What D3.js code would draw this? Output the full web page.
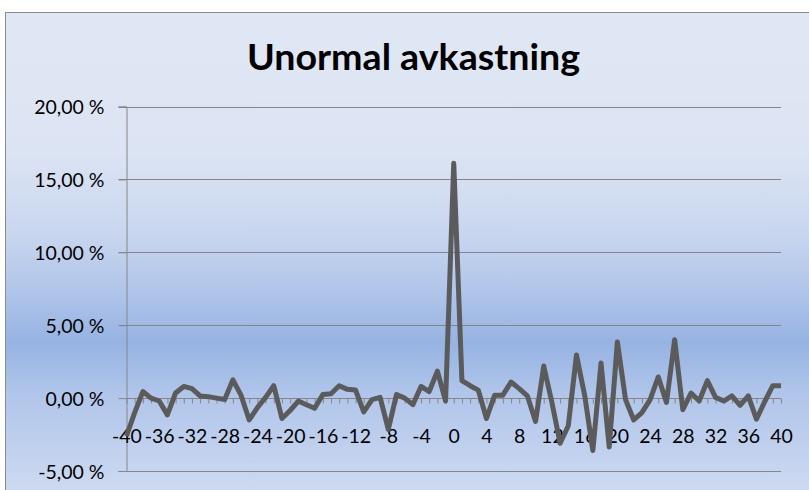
<!DOCTYPE html>
<html>
<head>
<meta charset="utf-8">
<script src="https://cdn.jsdelivr.net/npm/d3@7"></script>
<style>
  html, body { margin: 0; padding: 0; background: #ffffff; }
  svg { display: block; }
</style>
</head>
<body>
<svg id="chart" width="809" height="490"></svg>
<script>
// Event window: trading days relative to the event day
const days = [-40,-39,-38,-37,-36,-35,-34,-33,-32,-31,-30,-29,-28,-27,-26,-25,-24,-23,-22,-21,
  -20,-19,-18,-17,-16,-15,-14,-13,-12,-11,-10,-9,-8,-7,-6,-5,-4,-3,-2,-1,
  0,1,2,3,4,5,6,7,8,9,10,11,12,13,14,15,16,17,18,19,
  20,21,22,23,24,25,26,27,28,29,30,31,32,33,34,35,36,37,38,39,40];

// Abnormal return per day, in percent
const abnormalReturn = [-2.6,-1.0,0.45,0.0,-0.2,-1.15,0.35,0.8,0.65,0.15,0.1,0.0,-0.1,1.25,0.2,-1.5,-0.65,0.05,0.85,-1.4,
  -0.85,-0.2,-0.45,-0.7,0.25,0.3,0.85,0.6,0.55,-0.95,-0.1,0.05,-2.15,0.25,0.0,-0.45,0.8,0.45,1.85,-0.2,
  16.1,1.2,0.85,0.55,-1.4,0.2,0.2,1.1,0.65,0.15,-1.6,2.2,-0.3,-3.1,-1.9,2.95,0.2,-3.6,2.4,-3.35,
  3.85,-0.1,-1.5,-1.0,-0.1,1.45,-0.3,4.0,-0.8,0.35,-0.2,1.2,0.05,-0.2,0.15,-0.5,0.15,-1.45,-0.25,0.85,0.85];

// Value axis ticks and their labels
const yTicks = [-5, 0, 5, 10, 15, 20];
const yTickLabels = ["-5,00 %", "0,00 %", "5,00 %", "10,00 %", "15,00 %", "20,00 %"];

// Category labels shown on every fourth day
const xLabelDays = [-40,-36,-32,-28,-24,-20,-16,-12,-8,-4,0,4,8,12,16,20,24,28,32,36,40];

const title = "Unormal avkastning";

const svg = d3.select("#chart");
const plot = { left: 126.5, right: 781, top: 106.5, bottom: 471 };
const font = "Lato, 'Open Sans', sans-serif";

// Background gradient of the chart area
const defs = svg.append("defs");
const grad = defs.append("linearGradient")
  .attr("id", "bg").attr("x1", 0).attr("y1", 0).attr("x2", 0).attr("y2", 1);
[[0.00, "#e0e7f4"], [0.28, "#dce4f3"], [0.45, "#c7d5ee"], [0.57, "#adc3e9"],
 [0.66, "#96b3e2"], [0.76, "#b0c5ea"], [1.00, "#d3def2"]]
  .forEach(([o, c]) => grad.append("stop").attr("offset", o).attr("stop-color", c));

svg.append("rect").attr("x", 5.5).attr("y", 12.5).attr("width", 830).attr("height", 500)
  .attr("fill", "url(#bg)").attr("stroke", "#8c8c8c").attr("stroke-width", 1);

const x = d3.scalePoint().domain(days).range([plot.left, plot.right]);
const y = d3.scaleLinear().domain([-5, 20]).range([plot.bottom, plot.top]);

// Title
svg.append("text")
  .attr("x", 413.5).attr("y", 70)
  .attr("text-anchor", "middle")
  .attr("font-family", font).attr("font-weight", "bold").attr("font-size", 37)
  .attr("textLength", 333).attr("lengthAdjust", "spacingAndGlyphs")
  .attr("fill", "#000").text(title);

const axisColor = "#868686";

// Horizontal gridlines (value axis)
svg.append("g").selectAll("line").data(yTicks.filter(v => v !== 0)).join("line")
  .attr("x1", plot.left - 8).attr("x2", plot.right)
  .attr("y1", d => Math.round(y(d)) + 0.5).attr("y2", d => Math.round(y(d)) + 0.5)
  .attr("stroke", axisColor).attr("stroke-width", 1);

// Value axis with left tick marks
const yAxis = d3.axisLeft(y).tickValues(yTicks).tickSize(8)
  .tickFormat((d, i) => yTickLabels[i]);
const gy = svg.append("g").attr("transform", `translate(${plot.left},0)`).call(yAxis);
gy.select(".domain").attr("stroke", axisColor);
gy.selectAll(".tick line").attr("stroke", axisColor);
gy.selectAll(".tick text")
  .attr("x", -22).attr("dy", "0.36em")
  .attr("font-family", font).attr("font-size", 19.5).attr("fill", "#000");

// Category axis crossing at zero, tick mark on every day
const xAxis = d3.axisBottom(x).tickSize(5)
  .tickFormat(d => xLabelDays.includes(d) ? String(d) : "");
const gx = svg.append("g").attr("transform", `translate(0,${Math.round(y(0)) + 0.5})`).call(xAxis);
gx.select(".domain").attr("stroke", axisColor).attr("d", `M${plot.left},0H${plot.right}`);
gx.selectAll(".tick line").attr("stroke", axisColor);
gx.selectAll(".tick text")
  .attr("y", 44).attr("dy", 0)
  .attr("font-family", font).attr("font-size", 19.5).attr("fill", "#000");

// Abnormal return line
const line = d3.line().x((d, i) => x(days[i])).y(d => y(d));
svg.append("path").datum(abnormalReturn)
  .attr("d", line)
  .attr("fill", "none").attr("stroke", "#5b5b5b").attr("stroke-width", 5)
  .attr("stroke-linejoin", "round").attr("stroke-linecap", "butt");
</script>
</body>
</html>
